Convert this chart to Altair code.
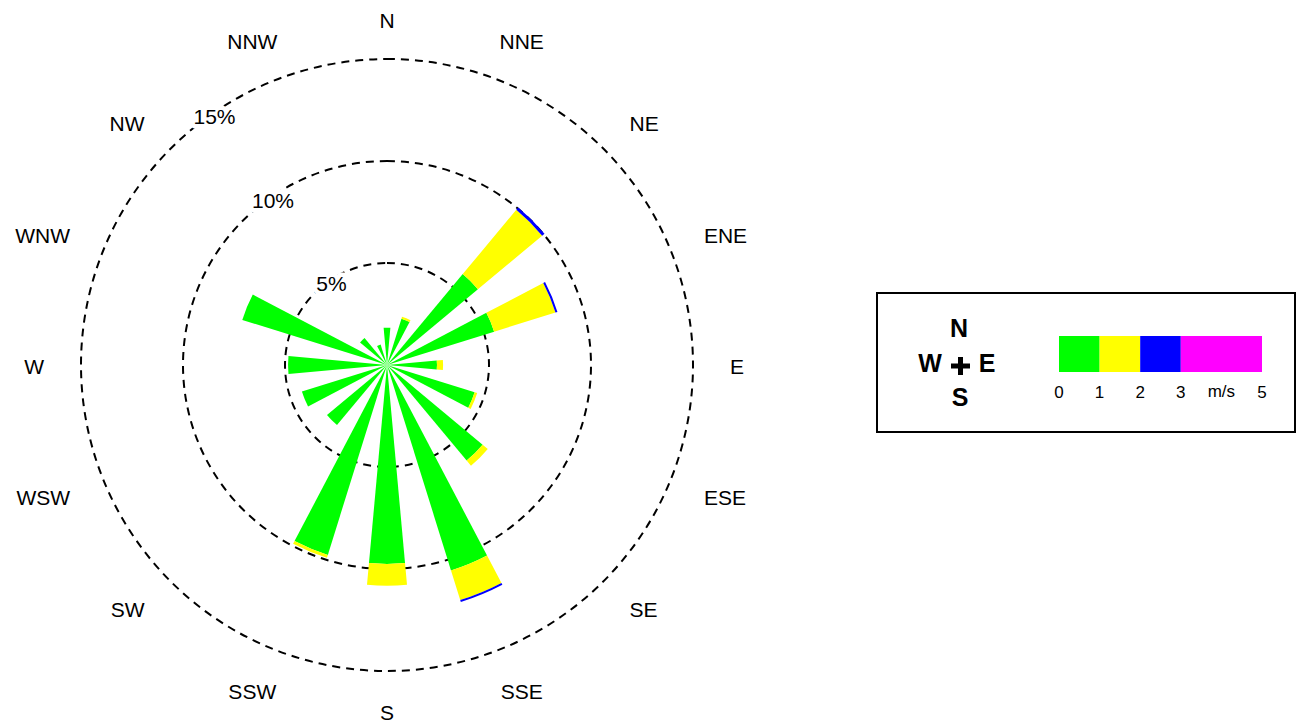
import math

import altair as alt
import pandas as pd

# ---- data -------------------------------------------------------------
directions = ["N", "NNE", "NE", "ENE", "E", "ESE", "SE", "SSE",
              "S", "SSW", "SW", "WSW", "W", "WNW", "NW", "NNW"]
bearings = [0, 22.5, 45, 67.5, 90, 112.5, 135, 157.5,
            180, 202.5, 225, 247.5, 270, 292.5, 315, 337.5]

speed_bins = ["0-1", "1-2", "2-3", "3-5"]
bin_colors = ["#00ff00", "#ffff00", "#0000ff", "#ff00ff"]

# frequency (%) of each speed class per direction
freq_0_1 = [1.83, 2.38, 5.80, 5.50, 2.45, 4.50, 6.10, 10.55,
            9.75, 9.75, 3.83, 4.37, 4.85, 7.43, 1.72, 1.05]
freq_1_2 = [0.00, 0.10, 4.10, 3.15, 0.30, 0.13, 0.33, 1.52,
            1.07, 0.15, 0.00, 0.00, 0.00, 0.00, 0.00, 0.00]
freq_2_3 = [0.00, 0.00, 0.15, 0.10, 0.00, 0.00, 0.00, 0.10,
            0.00, 0.00, 0.00, 0.00, 0.00, 0.00, 0.00, 0.00]
freq_3_5 = [0.00] * 16

ring_levels = [5, 10, 15]
ring_labels = ["5%", "10%", "15%"]

legend_lo = [0, 1, 2, 3]
legend_hi = [1, 2, 3, 5]
legend_ticks = [0, 1, 2, 3, 5]
legend_tick_labels = ["0", "1", "2", "3", "5"]

# ---- layout -----------------------------------------------------------
W, H = 1296, 723
CX, CY = 387, 365
HALF_WIDTH = 5.2          # half angular width of a petal, degrees
FONT = "Liberation Sans"

# stacked petals: one row per (direction, speed class)
rows = []
for name, b, *vals in zip(directions, bearings, freq_0_1, freq_1_2, freq_2_3, freq_3_5):
    start = 0.0
    for sb, v in zip(speed_bins, vals):
        if v > 0:
            rows.append(dict(dir=name, t0=b - HALF_WIDTH, t1=b + HALF_WIDTH,
                             r0=start, r1=start + v, bin=sb))
        start += v
petals_df = pd.DataFrame(rows)

labels_df = pd.DataFrame({"dir": directions, "angle": bearings})
rings_df = pd.DataFrame({"pct": ring_levels, "label": ring_labels})
bins_df = pd.DataFrame({"bin": speed_bins, "lo": legend_lo, "hi": legend_hi})
ticks_df = pd.DataFrame({"pos": legend_ticks, "label": legend_tick_labels})

theta_scale = alt.Scale(type="linear", domain=[0, 360], range=[0, 2 * math.pi],
                        nice=False, zero=False)
radius_scale = alt.Scale(type="linear", domain=[0, 15], range=[0, 306], nice=False)
color_scale = alt.Scale(domain=speed_bins, range=bin_colors)
bar_scale = alt.Scale(type="linear", domain=[0, 5], range=[1059, 1262], nice=False, zero=False)

cx = alt.value(CX)
cy = alt.value(CY)

# dashed frequency rings
rings = alt.Chart(rings_df).mark_arc(
    filled=False, stroke="black", strokeWidth=2, strokeDash=[8, 6]
).encode(
    theta=alt.value(0), theta2=alt.value(2 * math.pi),
    radius=alt.Radius("pct:Q", scale=radius_scale, stack=None),
    x=cx, y=cy,
)

ring_text_base = alt.Chart(rings_df).encode(
    theta=alt.ThetaDatum(325, scale=theta_scale),
    radius=alt.Radius("pct:Q", scale=radius_scale, stack=None),
    text="label:N", x=cx, y=cy,
)
ring_halo = ring_text_base.mark_text(
    font=FONT, fontSize=21, stroke="white", strokeWidth=9, strokeJoin="round",
    fill="white", baseline="middle", align="center", dx=3, dy=4)
ring_text = ring_text_base.mark_text(
    font=FONT, fontSize=21, color="black", baseline="middle", align="center", dx=3, dy=4)

# stacked petals
petals = alt.Chart(petals_df).mark_arc().encode(
    theta=alt.Theta("t0:Q", scale=theta_scale, stack=None),
    theta2="t1:Q",
    radius=alt.Radius("r1:Q", scale=radius_scale, stack=None),
    radius2="r0:Q",
    color=alt.Color("bin:N", scale=color_scale, legend=None),
    x=cx, y=cy,
)


# compass direction labels
def dir_labels(cond, align, r):
    return alt.Chart(labels_df).transform_filter(cond).mark_text(
        font=FONT, fontSize=21, color="black", align=align, baseline="middle", dy=3
    ).encode(
        theta=alt.Theta("angle:Q", scale=theta_scale),
        radius=alt.value(r),
        text="dir:N", x=cx, y=cy,
    )


right_lbl = dir_labels("datum.angle >= 45 && datum.angle <= 135", "left", 343)
left_lbl = dir_labels("datum.angle >= 225 && datum.angle <= 315", "right", 343)
axis_lbl = dir_labels("datum.angle == 0 || datum.angle == 180", "center", 346)
diag_lbl = dir_labels(
    "datum.angle == 22.5 || datum.angle == 157.5 || datum.angle == 202.5 || datum.angle == 337.5",
    "center", 352)

# ---- legend box -------------------------------------------------------
one = pd.DataFrame({"k": [0]})
box = alt.Chart(one).mark_rect(fill="white", stroke="black", strokeWidth=2).encode(
    x=alt.value(877), x2=alt.value(1295), y=alt.value(293), y2=alt.value(432))

colorbar = alt.Chart(bins_df).mark_rect().encode(
    x=alt.X("lo:Q", scale=bar_scale, axis=None),
    x2="hi:Q",
    y=alt.value(336), y2=alt.value(372),
    color=alt.Color("bin:N", scale=color_scale, legend=None),
)

tick_text = alt.Chart(ticks_df).mark_text(
    font=FONT, fontSize=17, color="black", baseline="middle", align="center"
).encode(x=alt.X("pos:Q", scale=bar_scale, axis=None), y=alt.value(393), text="label:N")

unit_text = alt.Chart(one).mark_text(
    font=FONT, fontSize=17, color="black", baseline="middle", align="center", text="m/s"
).encode(x=alt.XDatum(4, scale=bar_scale), y=alt.value(392))


def bold_letter(ch, x, y):
    return alt.Chart(one).mark_text(
        font=FONT, fontSize=25, fontWeight="bold", color="black",
        baseline="middle", align="center", text=ch
    ).encode(x=alt.value(x), y=alt.value(y))


compass = [
    bold_letter("N", 959, 329),
    bold_letter("W", 930, 364),
    bold_letter("E", 987, 364),
    bold_letter("S", 960, 398),
    alt.Chart(one).mark_rule(color="black", strokeWidth=5).encode(
        x=alt.value(951), x2=alt.value(970), y=alt.value(366), y2=alt.value(366)),
    alt.Chart(one).mark_rule(color="black", strokeWidth=5).encode(
        x=alt.value(960.5), x2=alt.value(960.5), y=alt.value(357), y2=alt.value(375)),
]

chart = alt.layer(
    rings, ring_halo, ring_text, petals,
    right_lbl, left_lbl, axis_lbl, diag_lbl,
    box, colorbar, tick_text, unit_text, *compass,
).properties(
    width=W, height=H, padding=0, autosize=alt.AutoSizeParams(type="none"),
    background="white",
).configure_view(stroke=None)

chart.save("out.html", embed_options={"renderer": "svg", "actions": False})
